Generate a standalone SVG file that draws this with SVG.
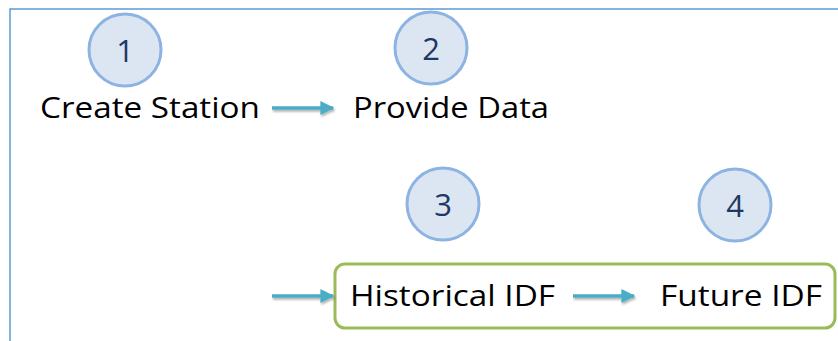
<svg xmlns="http://www.w3.org/2000/svg" width="838" height="341" viewBox="0 0 838 341">
<style>
.frame{fill:none;stroke:#5b9bd5;stroke-width:1.5}
.badge circle{fill:#dce6f2;stroke:#8db3e2;stroke-width:3}
.badge text{font-family:"Open Sans","Liberation Sans",sans-serif;font-size:31px;fill:#1f3864;text-anchor:middle}
.lbl{font-family:"Open Sans","Liberation Sans",sans-serif;font-size:29px;fill:#000}
.conn{stroke:#4bacc6;stroke-width:3.5;fill:none;marker-end:url(#ah);filter:url(#sh)}
.box{fill:#fff;stroke:#9bbb59;stroke-width:3}
</style>
<defs>
<marker id="ah" viewBox="0 0 10 10" refX="9" refY="5" markerWidth="4" markerHeight="4" orient="auto" markerUnits="strokeWidth">
<path d="M0,0 L10,5 L0,10 z" fill="#4bacc6"/>
</marker>
<filter id="sh" filterUnits="userSpaceOnUse" x="0" y="0" width="838" height="341">
<feDropShadow dx="1" dy="2" stdDeviation="1" flood-color="#000" flood-opacity="0.3"/>
</filter>
</defs>
<path class="frame" d="M10,341 L10,9 L838,9"/>
<g id="node-create-station">
<text class="lbl" x="40" y="118" textLength="220" lengthAdjust="spacingAndGlyphs">Create Station</text>
</g>
<g id="node-provide-data">
<text class="lbl" x="353" y="118" textLength="196" lengthAdjust="spacingAndGlyphs">Provide Data</text>
</g>
<g id="node-idf-group">
<rect class="box" x="335" y="264" width="500" height="64" rx="10" ry="10"/>
</g>
<g id="node-historical-idf">
<text class="lbl" x="350" y="306" textLength="205" lengthAdjust="spacingAndGlyphs">Historical IDF</text>
</g>
<g id="node-future-idf">
<text class="lbl" x="660" y="306" textLength="162" lengthAdjust="spacingAndGlyphs">Future IDF</text>
</g>
<g id="badge-1" class="badge"><circle cx="125" cy="50" r="36"/><text x="125" y="62">1</text></g>
<g id="badge-2" class="badge"><circle cx="431" cy="48" r="36"/><text x="431" y="60">2</text></g>
<g id="badge-3" class="badge"><circle cx="443" cy="204" r="36"/><text x="443" y="216">3</text></g>
<g id="badge-4" class="badge"><circle cx="735" cy="205" r="36"/><text x="735" y="217">4</text></g>
<g id="connectors">
<line class="conn" x1="272" y1="108" x2="333" y2="108"/>
<line class="conn" x1="272" y1="296" x2="333" y2="296"/>
<line class="conn" x1="573" y1="296" x2="634" y2="296"/>
</g>
</svg>
